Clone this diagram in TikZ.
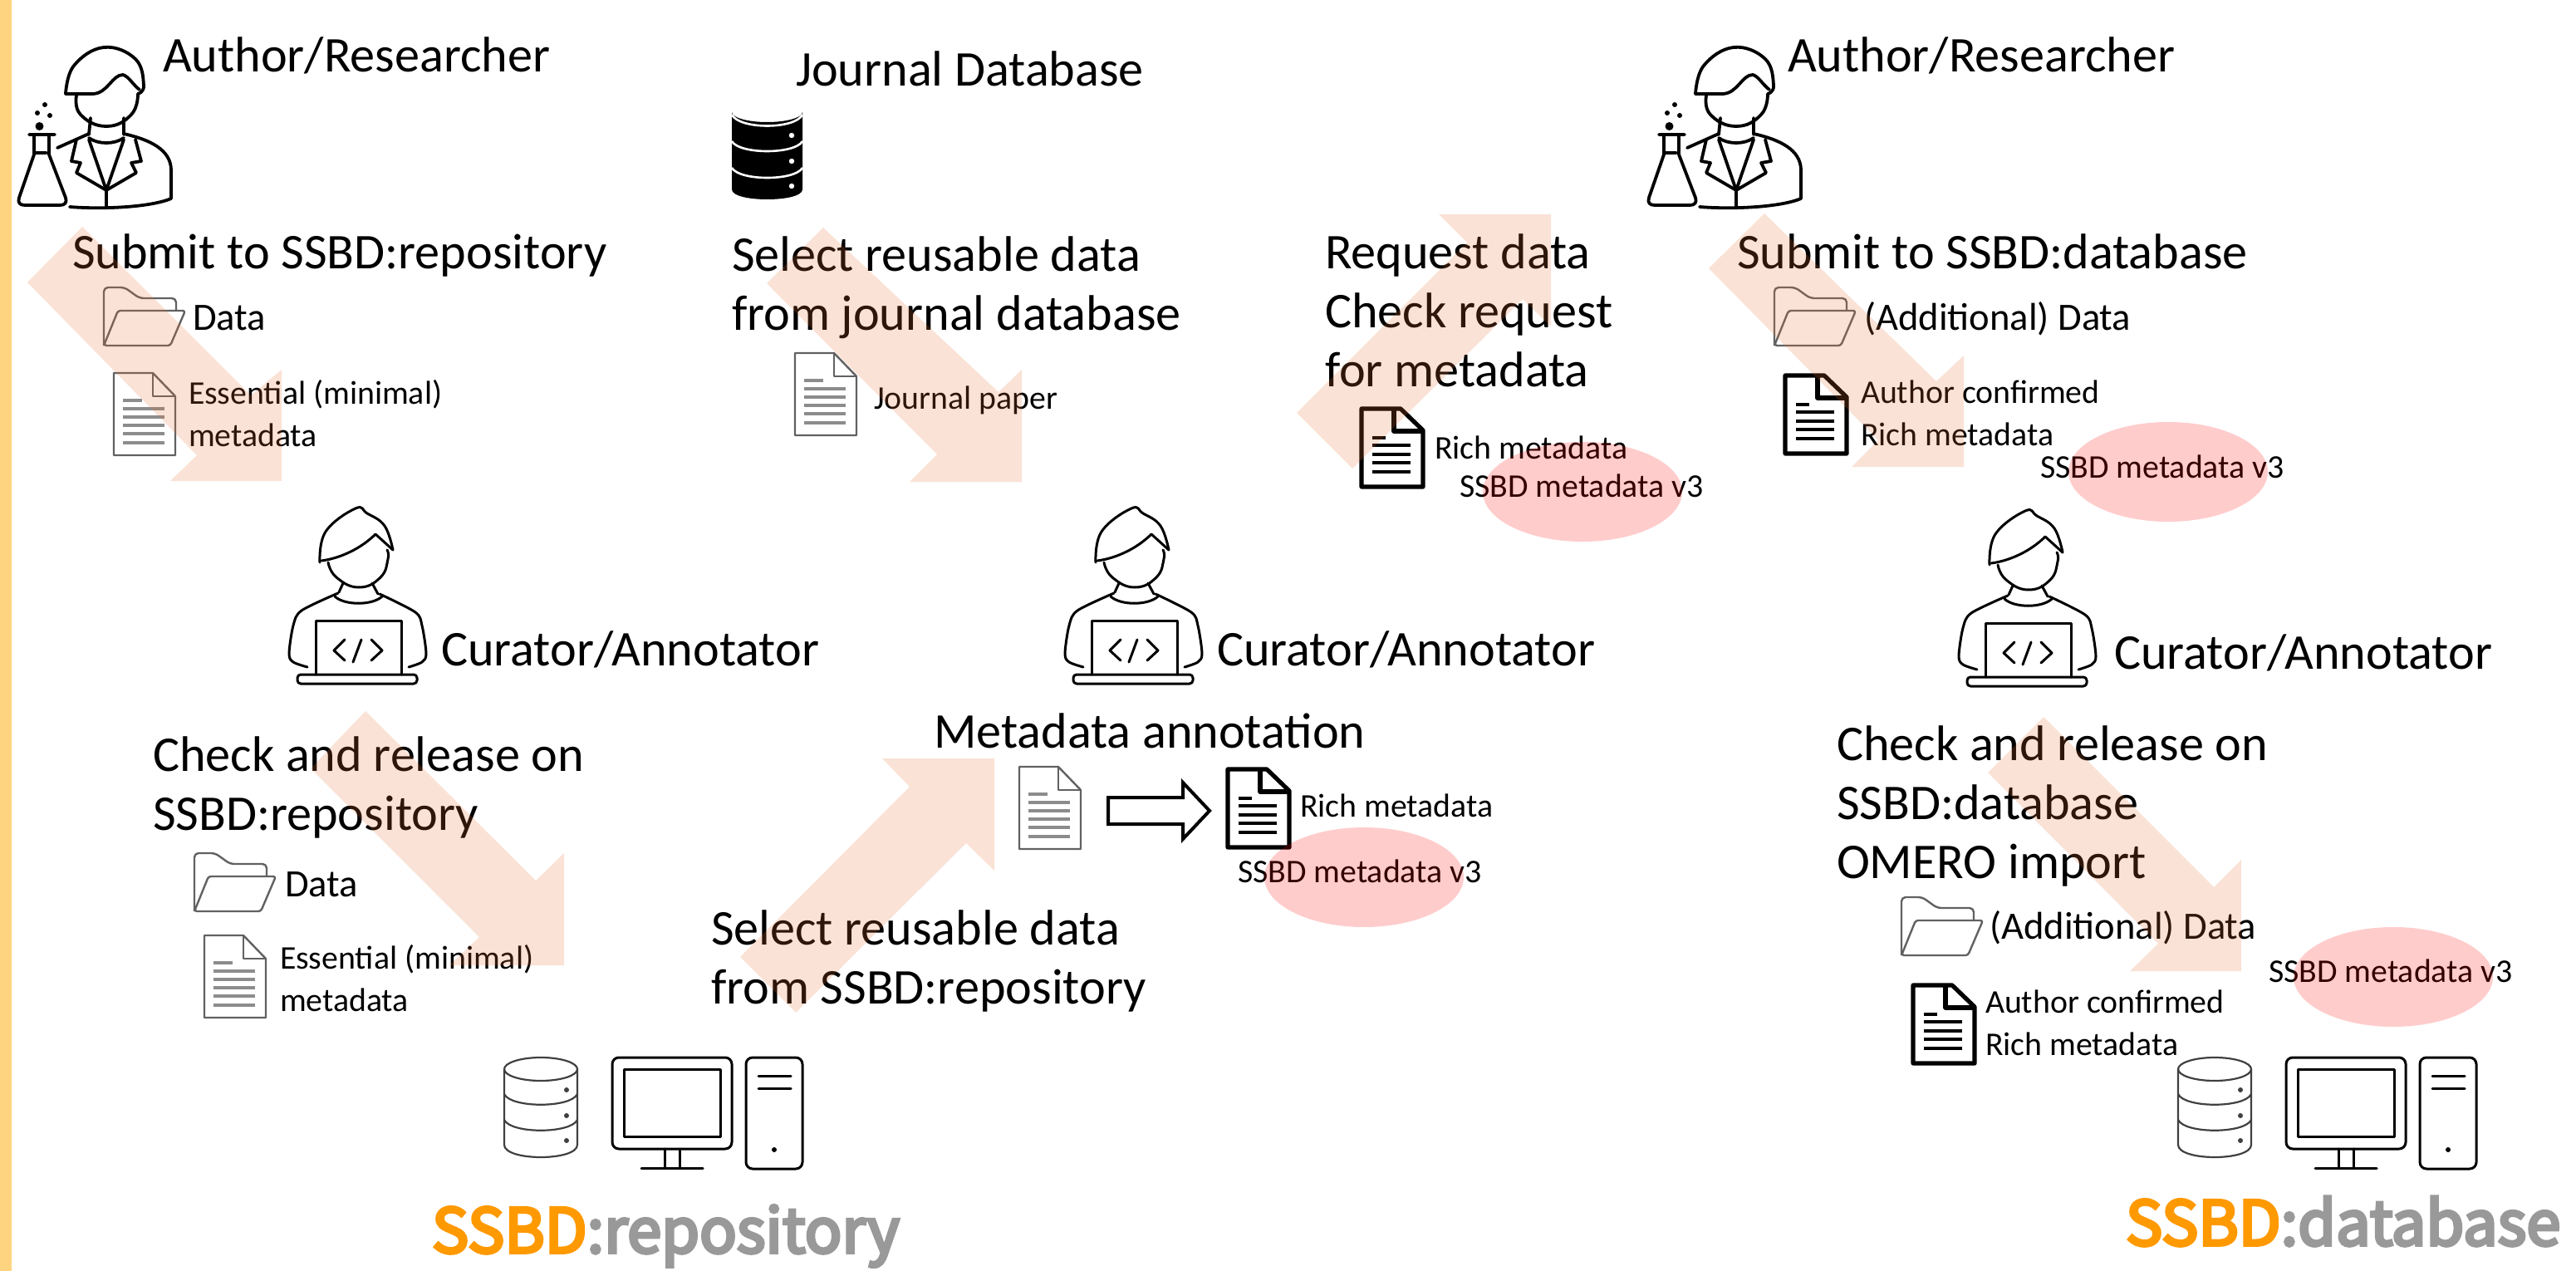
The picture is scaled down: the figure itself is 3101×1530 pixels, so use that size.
\documentclass[tikz,border=0pt]{standalone}
\usepackage{fontspec}
\setmainfont{Carlito}
\newfontfamily\logofont[FakeBold=5]{Noto Sans CJK JP}
\definecolor{flowc}{HTML}{E97132}
\definecolor{barc}{HTML}{FFD480}
\definecolor{logoo}{HTML}{FF9900}
\definecolor{logog}{HTML}{999999}
\tikzset{
  big/.style={anchor=base west,inner sep=0pt,outer sep=0pt,align=left,font=\fontsize{30.1}{35.3}\selectfont},
  mid/.style={anchor=base west,inner sep=0pt,outer sep=0pt,align=left,font=\fontsize{23.3}{28}\selectfont},
  small/.style={anchor=base west,inner sep=0pt,outer sep=0pt,align=left,font=\fontsize{19.9}{25.3}\selectfont},
  logo/.style={anchor=base west,inner sep=0pt,outer sep=0pt,font=\fontsize{37}{44}\logofont},
  flow/.style={fill=flowc,fill opacity=.2,draw=none},
  tag/.style={fill=red,fill opacity=.2,draw=none},
  ink/.style={draw=black,line width=1.9pt,line cap=round,line join=round,fill=none},
  thin ink/.style={draw=black,line width=1.5pt,line cap=round,line join=round,fill=none},
  pics/doclight/.style={code={
    \draw[draw=black!62,line width=1.2pt,line join=round] (0,0) -- (47,0) -- (74,28) -- (74,99) -- (0,99) -- cycle;
    \draw[draw=black!62,line width=1.2pt,line join=round] (47,0) -- (47,28) -- (74,28);
    \draw[draw=black!45,line width=1.6pt] (11,33) -- (34,33) (11,43) -- (61,43) (11,53) -- (61,53) (11,63) -- (61,63) (11,73) -- (61,73) (11,84) -- (61,84);
  }},
  pics/docdark/.style={code={
    \draw[draw=black,line width=2.6pt,line join=round] (3,3) -- (50,3) -- (77,29) -- (77,97) -- (3,97) -- cycle;
    \draw[draw=black,line width=2.6pt,line join=round] (42,3) -- (42,30) -- (77,30);
    \draw[draw=black,line width=1.6pt] (16,38) -- (32,38) (16,47) -- (62,47) (16,58) -- (62,58) (16,68) -- (62,68) (16,79) -- (62,79);
  }},
  pics/folder/.style={code={
    \draw[draw=black!62,line width=1.2pt,line join=round,rounded corners=2.5pt] (0,70) -- (0,0) -- (25,0) -- (43,13) -- (87,13) -- (87,28);
    \draw[draw=black!62,line width=1.2pt,line join=round,rounded corners=1.5pt] (0,70) -- (17,28) -- (98,28) -- (80,70) -- cycle;
  }},
  pics/researcher/.style={code={
    \draw[ink] plot[smooth,tension=.7] coordinates {(79,113) (89,79) (125,57) (163,71) (173,103) (166,113)};
    \draw[ink] (79,113) -- (112,113) .. controls (130,112) and (135,90) .. (148,90) .. controls (155,92) and (160,102) .. (168,108);
    \draw[ink] plot[smooth,tension=.8] coordinates {(92,115) (97,138) (128,152) (158,138) (166,113)};
    \draw[ink] (109,142) -- (107,162) (149,142) -- (149,162);
    \draw[ink] (107,166) .. controls (118,174) and (138,174) .. (149,166);
    \draw[ink] (69,178) -- (107,161);
    \draw[ink] (149,161) .. controls (180,168) and (206,180) .. (206,205) -- (206,239) .. controls (180,250) and (120,252) .. (84,249);
    \draw[ink] (92,168) -- (86,194) -- (97,196) -- (92,208) -- (128,229) -- (164,208) -- (158,196) -- (170,194) -- (163,168);
    \draw[ink] (107,168) -- (128,229) -- (149,168) (128,229) -- (128,249);
    \draw[ink] (35,162) -- (66,162) (41,164) -- (41,186) -- (23,238) .. controls (21,244) and (24,247) .. (30,247) -- (72,247) .. controls (78,247) and (81,244) .. (79,238) -- (59,186) -- (59,164) (43,184) -- (56,184);
    \fill[black] (47.5,152) circle (5) (45,136) circle (3) (60,139) circle (3) (54,126) circle (3);
  }},
  pics/curator/.style={code={
    \draw[thin ink] plot[smooth,tension=.7] coordinates {(385,677) (392,640) (428,612) (442,618) (463,633) (473,662)};
    \draw[thin ink] (387,675) .. controls (410,672) and (435,660) .. (452,643) -- (473,662);
    \draw[thin ink] plot[smooth,tension=.8] coordinates {(395,677) (405,695) (432,707) (458,695) (467,673) (466,662)};
    \draw[thin ink] (413,702) -- (408,713) (448,702) -- (455,715);
    \draw[thin ink] (403,718) .. controls (415,729) and (448,729) .. (460,718);
    \draw[thin ink] plot[smooth,tension=.5] coordinates {(407,714) (363,735) (353,753) (348,787) (353,797) (370,803)};
    \draw[thin ink] plot[smooth,tension=.5] coordinates {(457,715) (500,737) (508,753) (513,787) (508,797) (492,803)};
    \draw[thin ink] (380,812) -- (380,747) -- (483,747) -- (483,812);
    \draw[thin ink,rounded corners=2pt] (358,812) -- (502,812) -- (502,823) -- (358,823) -- cycle;
    \draw[thin ink] (415,770) -- (402,783) -- (415,795) (435,770) -- (425,797) (447,770) -- (460,783) -- (447,795);
  }},
  pics/storeline/.style={code={
    \draw[draw=black!75,line width=1.1pt] (607,1287) arc [start angle=180,end angle=-180,x radius=44,y radius=14];
    \draw[draw=black!75,line width=1.1pt] (607,1287) -- (607,1378) .. controls (607,1398) and (695,1398) .. (695,1378) -- (695,1287);
    \draw[draw=black!75,line width=1.1pt] (607,1317) .. controls (615,1334) and (687,1334) .. (695,1317);
    \draw[draw=black!75,line width=1.1pt] (607,1348) .. controls (615,1365) and (687,1365) .. (695,1348);
    \fill[black!75] (682,1312) circle (3) (682,1343) circle (3) (682,1373) circle (3);
  }},
  pics/monitor/.style={code={
    \draw[thin ink,rounded corners=4pt] (737,1273) rectangle (881,1383);
    \draw[thin ink] (751,1287) rectangle (867,1368);
    \draw[thin ink] (800,1383) -- (800,1405) (818,1383) -- (818,1405) (772,1406) -- (846,1406);
  }},
  pics/towerbox/.style={code={
    \draw[thin ink,rounded corners=4pt] (898,1273) rectangle (966,1407);
    \draw[thin ink] (913,1295) -- (952,1295) (913,1310) -- (952,1310);
    \fill[black] (932,1384) circle (3);
  }},
  pics/storesolid/.style={code={
    \fill[black] (881,135) arc [start angle=180,end angle=0,x radius=42.5,y radius=12] -- (966,228) .. controls (966,244) and (881,244) .. (881,228) -- cycle;
    \draw[white,line width=1.3pt] (881,138) .. controls (890,156) and (957,156) .. (966,138);
    \draw[white,line width=1.3pt] (881,170) .. controls (890,186) and (957,186) .. (966,170);
    \draw[white,line width=1.3pt] (881,202) .. controls (890,218) and (957,218) .. (966,202);
    \fill[white] (953,163) circle (3.2) (953,194) circle (3.2) (953,224) circle (3.2);
  }},
}
\begin{document}
\begin{tikzpicture}[x=0.5pt,y=-0.5pt]
\useasboundingbox (0,0) rectangle (3101,1530);
\fill[white] (0,0) rectangle (3101,1530);
\fill[barc] (0,0) rectangle (14,1530);
% icons
\pic {researcher};
\pic at (1962,0) {researcher};
\pic {curator};
\pic at (934,0) {curator};
\pic at (2010,3) {curator};
\pic {storesolid};
\pic {storeline}; \pic {monitor}; \pic {towerbox};
\pic at (2015,0) {storeline}; \pic at (2015,0) {monitor}; \pic at (2015,0) {towerbox};
\pic at (125,346) {folder};
\pic at (2136,346) {folder};
\pic at (234,1027) {folder};
\pic at (2289,1080) {folder};
\pic at (137,449) {doclight};
\pic at (957,425) {doclight};
\pic at (246,1126) {doclight};
\pic at (1227,923) {doclight};
\pic at (1636,489) {docdark};
\pic at (2146,449) {docdark};
\pic at (1475,923) {docdark};
\pic at (2300,1183) {docdark};
\draw[draw=black,line width=2pt,line join=miter,fill=white] (1334,960) -- (1424,960) -- (1424,942) -- (1456,976) -- (1424,1010) -- (1424,992) -- (1334,992) -- cycle;
% texts (a multi-line node is placed by the baseline of its last line)
\node[big] (role1) at (196,87) {Author/Researcher};
\node[big] (step1) at (87,323) {Submit to SSBD:repository};
\node[mid] (d1) at (232,397) {Data};
\node[small] (m1) at (227,537) {Essential (minimal)\\metadata};
\node[big] (role2) at (958,104) {Journal Database};
\node[big] (step2) at (881,397) {Select reusable data\\from journal database};
\node[small] (m2) at (1052,492) {Journal paper};
\node[big] (step3) at (1595,465) {Request data\\Check request\\for metadata};
\node[small] (m3) at (1727,552) {Rich metadata};
\node[small] (v1) at (1757,598) {SSBD metadata v3};
\node[big] (role3) at (2152,87) {Author/Researcher};
\node[big] (step4) at (2091,323) {Submit to SSBD:database};
\node[mid] (d2) at (2244,397) {(Additional) Data};
\node[small] (m4) at (2240,536) {Author confirmed\\Rich metadata};
\node[small] (v2) at (2456,575) {SSBD metadata v3};
\node[big] (role4) at (531,801) {Curator/Annotator};
\node[big] (role5) at (1465,801) {Curator/Annotator};
\node[big] (role6) at (2545,805) {Curator/Annotator};
\node[big] (step5) at (184,999) {Check and release on\\SSBD:repository};
\node[mid] (d3) at (343,1079) {Data};
\node[small] (m5) at (337,1217) {Essential (minimal)\\metadata};
\node[big] (step6) at (1124,900) {Metadata annotation};
\node[big] (step7) at (856,1208) {Select reusable data\\from SSBD:repository};
\node[small] (m6) at (1565,983) {Rich metadata};
\node[small] (v3) at (1490,1062) {SSBD metadata v3};
\node[big] (step8) at (2211,1057) {Check and release on\\SSBD:database\\OMERO import};
\node[mid] (d4) at (2395,1130) {(Additional) Data};
\node[small] (m7) at (2390,1270) {Author confirmed\\Rich metadata};
\node[small] (v4) at (2731,1182) {SSBD metadata v3};
\node[logo] (sys1) at (520,1508) {\textcolor{logoo}{SSBD}\textcolor{logog}{:repository}};
\node[logo] (sys2) at (2559,1499) {\textcolor{logoo}{SSBD}\textcolor{logog}{:database}};
% translucent flow arrows
\fill[flow] (99,273) -- (302,476) -- (339,445) -- (339,579) -- (205,579) -- (237,548) -- (33,340) -- cycle;
\fill[flow] (991,274) -- (1202,472) -- (1230,445) -- (1230,580) -- (1095,580) -- (1128,547) -- (923,341) -- cycle;
\fill[flow] (1732,258) -- (1867,258) -- (1867,393) -- (1833,360) -- (1628,564) -- (1561,497) -- (1766,292) -- cycle;
\fill[flow] (2124,257) -- (2331,459) -- (2364,428) -- (2364,562) -- (2229,562) -- (2261,530) -- (2057,323) -- cycle;
\fill[flow] (440,856) -- (645,1060) -- (679,1027) -- (679,1162) -- (541,1162) -- (577,1128) -- (374,925) -- cycle;
\fill[flow] (1062,913) -- (1197,913) -- (1197,1048) -- (1163,1015) -- (958,1219) -- (891,1152) -- (1095,947) -- cycle;
\fill[flow] (2460,863) -- (2665,1068) -- (2698,1035) -- (2698,1169) -- (2564,1169) -- (2598,1136) -- (2393,930) -- cycle;
% metadata ellipses
\fill[tag] (1642,1056) ellipse [x radius=120,y radius=60];
\fill[tag] (1905,592) ellipse [x radius=120,y radius=60];
\fill[tag] (2610,568) ellipse [x radius=120,y radius=60];
\fill[tag] (2881,1176) ellipse [x radius=120,y radius=60];
\end{tikzpicture}
\end{document}
